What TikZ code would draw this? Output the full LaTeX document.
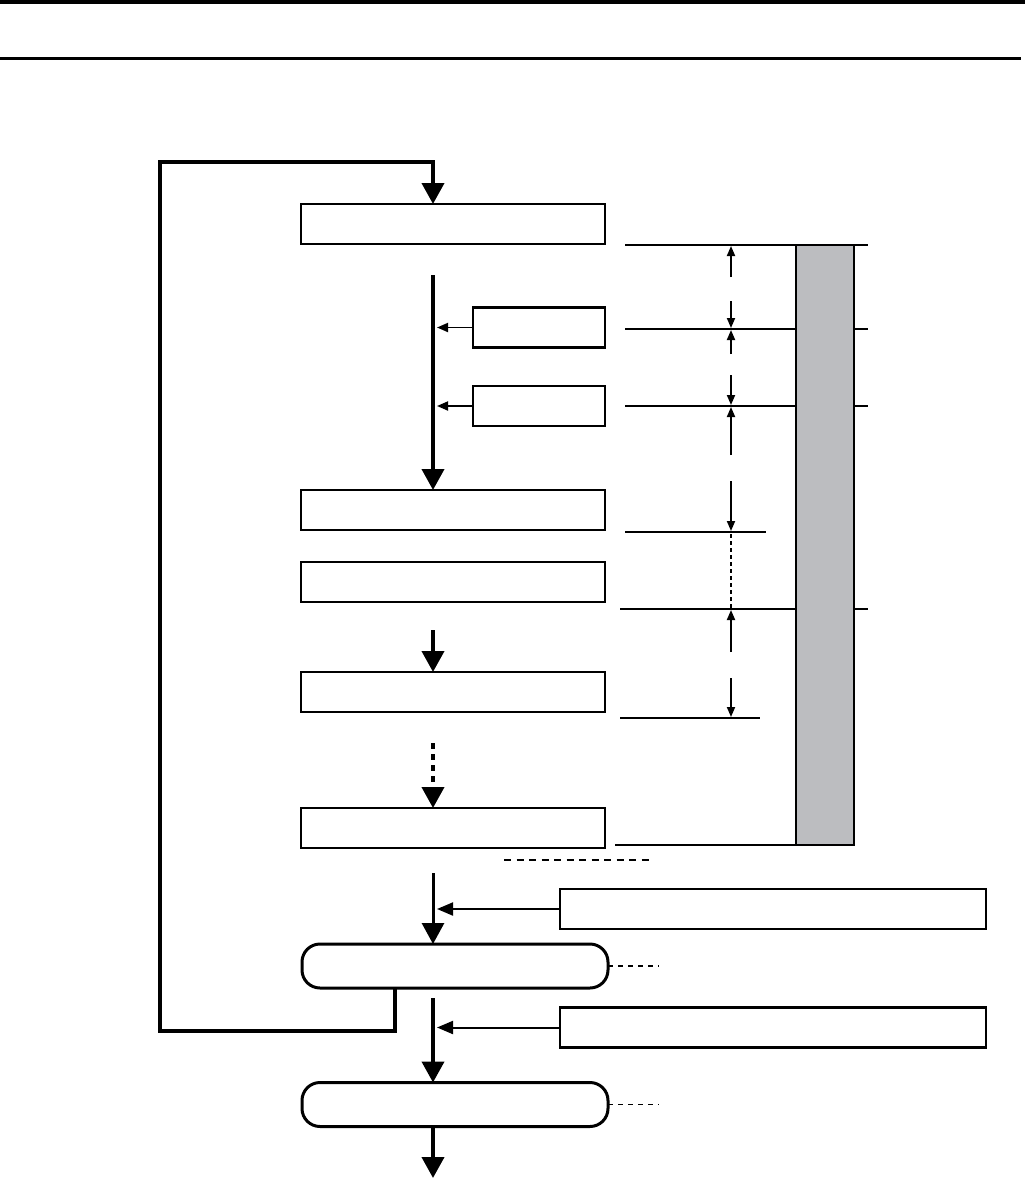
\documentclass[tikz,border=0pt]{standalone}
\usetikzlibrary{arrows.meta}
\definecolor{bargray}{HTML}{BCBDC0}
\begin{document}
\begin{tikzpicture}[x=1pt,y=-1pt,
  box/.style={draw,line width=2.4pt,minimum width=304pt,minimum height=40pt,inner sep=0pt,outer sep=0pt},
  sbox/.style={draw,line width=2.4pt,minimum width=132pt,minimum height=40pt,inner sep=0pt,outer sep=0pt},
  wbox/.style={draw,line width=2.4pt,minimum width=426pt,minimum height=40pt,inner sep=0pt,outer sep=0pt},
  rbox/.style={draw,line width=3pt,rounded corners=18pt,minimum width=306pt,minimum height=44pt,inner sep=0pt,outer sep=0pt},
  bigarrow/.style={line width=4pt,-{Triangle[length=21pt,width=22pt]}},
  medarrow/.style={line width=2pt,-{Triangle[length=16pt,width=13pt]}},
  smallarrow/.style={line width=1.8pt,-{Triangle[length=11pt,width=9pt]}},
  dimarrow/.style={line width=1.8pt,-{Triangle[length=10pt,width=8pt]}},
  hline/.style={line width=2pt},
]
\useasboundingbox[fill=white] (0,0) rectangle (1025,1179);

% header rules
\draw[line width=4pt] (0,2) -- (1025,2);
\draw[line width=3pt] (0,58) -- (1021,58);

\coordinate (sp) at (433,0);

% boxes
\node[box] (b1) at (453,224) {};
\node[sbox] (s1) at (539,327.5) {};
\node[sbox] (s2) at (539,406) {};
\node[box] (b2) at (453,510) {};
\node[box] (b3) at (453,582) {};
\node[box] (b4) at (453,692) {};
\node[box] (b5) at (453,828) {};
\node[wbox] (r1) at (773,909) {};
\node[rbox] (rb1) at (455,966) {};
\node[wbox] (r2) at (773,1027.5) {};
\node[rbox] (rb2) at (455,1104.5) {};

% loop back
\coordinate (lp) at (395,988);
\draw[bigarrow] (lp) |- (160,1031) |- (433,162) -- (b1.north -| sp);

% main spine
\coordinate (sp1) at (433,275);
\draw[bigarrow] (sp1) -- (b2.north -| sp);
\draw[smallarrow] (s1.west) -- ++(-36,0);
\draw[smallarrow] (s2.west) -- ++(-36,0);

\coordinate (sp2) at (433,630);
\draw[bigarrow] (sp2) -- (b4.north -| sp);
\coordinate (sp3) at (433,743);
\draw[bigarrow,dash pattern=on 6pt off 5pt] (sp3) -- (b5.north -| sp);

\coordinate (sp4) at (433,873);
\draw[bigarrow,line width=3pt] (sp4) -- (rb1.north -| sp);
\draw[medarrow] (r1.west) -- ++(-123,0);

\coordinate (sp5) at (433,998);
\draw[bigarrow] (sp5) -- (rb2.north -| sp);
\draw[medarrow] (r2.west) -- ++(-123,0);
\coordinate (endp) at (433,1178);
\draw[bigarrow] (rb2.south -| sp) -- (endp);

% dashed marks
\draw[line width=2pt,dash pattern=on 7pt off 5.5pt] (504,860) -- (654,860);
\draw[line width=1.5pt,dash pattern=on 5pt off 5pt] (rb1.east) -- ++(51,0);
\draw[line width=1.5pt,dash pattern=on 5pt off 5pt] (rb2.east) -- ++(51,0);

% right horizontal lines
\draw[hline] (625,245) -- (868,245);
\draw[hline] (625,329) -- (868,329);
\draw[hline] (625,406) -- (868,406);
\draw[hline] (625,532) -- (766,532);
\draw[hline] (620,609) -- (868,609);
\draw[hline] (620,718) -- (760,718);
\draw[hline] (615,845) -- (854,845);

% gray bar
\node[draw,line width=2pt,fill=bargray,minimum width=58pt,minimum height=600pt,inner sep=0pt,outer sep=0pt] (bar) at (825,545) {};

% dimension arrows
\draw[dimarrow] (731,277) -- (731,246);
\draw[dimarrow] (731,301) -- (731,328);
\draw[dimarrow] (731,354) -- (731,330);
\draw[dimarrow] (731,375) -- (731,405);
\draw[dimarrow] (731,455) -- (731,407);
\draw[dimarrow] (731,481) -- (731,531);
\draw[line width=1.8pt,dash pattern=on 4pt off 3pt] (731,534) -- (731,608);
\draw[dimarrow] (731,652) -- (731,610);
\draw[dimarrow] (731,678) -- (731,717);
\end{tikzpicture}
\end{document}
